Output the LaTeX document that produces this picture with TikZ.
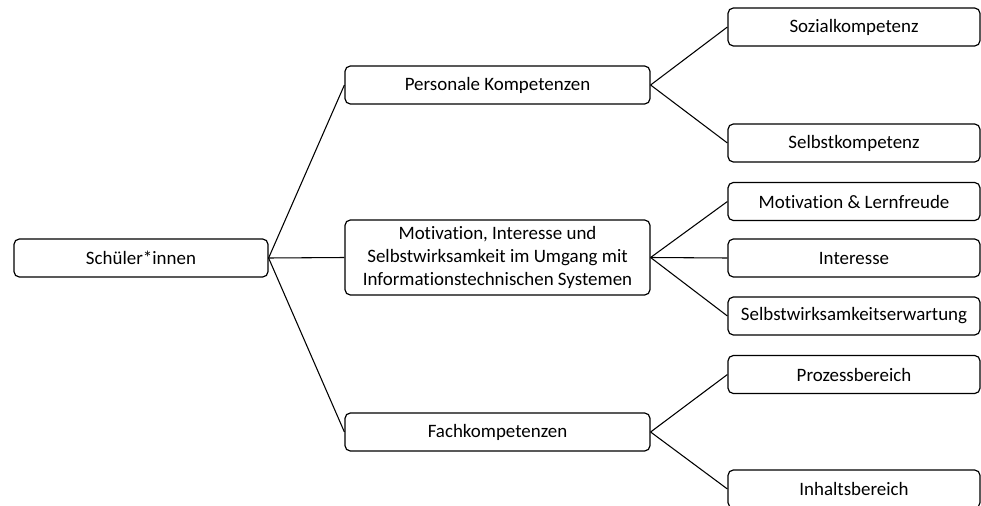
\documentclass[tikz,border=0pt]{standalone}
\usepackage{fontspec}
\setmainfont{Carlito}[Ligatures=CommonOff]
\usetikzlibrary{positioning}

\begin{document}
\begin{tikzpicture}[x=0.75pt,y=-0.75pt,
box/.style={draw,rounded corners=4pt,align=center,minimum height=28.5pt,inner sep=3pt,line width=0.9pt,font=\fontsize{14.2}{17}\selectfont},
mid/.style={box,minimum width=228.75pt},
leaf/.style={box,minimum width=189pt},
link/.style={line width=0.8pt}]
\useasboundingbox (0,0) rectangle (981,506);
\node[box,minimum width=190.5pt] (root) at (141,258) {Schüler*innen};
\node[mid] (pers) at (497.5,85) {Personale Kompetenzen};
\node[mid,minimum height=56.25pt] (motiv) at (497.5,257.5) {Motivation, Interesse und\\Selbstwirksamkeit im Umgang mit\\Informationstechnischen Systemen};
\node[mid] (fach) at (497.5,432) {Fachkompetenzen};
\node[leaf] (sozial) at (854,27) {Sozialkompetenz};
\node[leaf] (selbst) at (854,143) {Selbstkompetenz};
\node[leaf] (lern) at (854,201.5) {Motivation \& Lernfreude};
\node[leaf] (inter) at (854,258) {Interesse};
\node[leaf] (swe) at (854,316) {Selbstwirksamkeitserwartung};
\node[leaf] (prozess) at (854,374.5) {Prozessbereich};
\node[leaf] (inhalt) at (854,489) {Inhaltsbereich};
\draw[link] (root.east) -- (pers.west);
\draw[link] (root.east) -- (motiv.west);
\draw[link] (root.east) -- (fach.west);
\draw[link] (pers.east) -- (sozial.west);
\draw[link] (pers.east) -- (selbst.west);
\draw[link] (motiv.east) -- (lern.west);
\draw[link] (motiv.east) -- (inter.west);
\draw[link] (motiv.east) -- (swe.west);
\draw[link] (fach.east) -- (prozess.west);
\draw[link] (fach.east) -- (inhalt.west);
\end{tikzpicture}
\end{document}
